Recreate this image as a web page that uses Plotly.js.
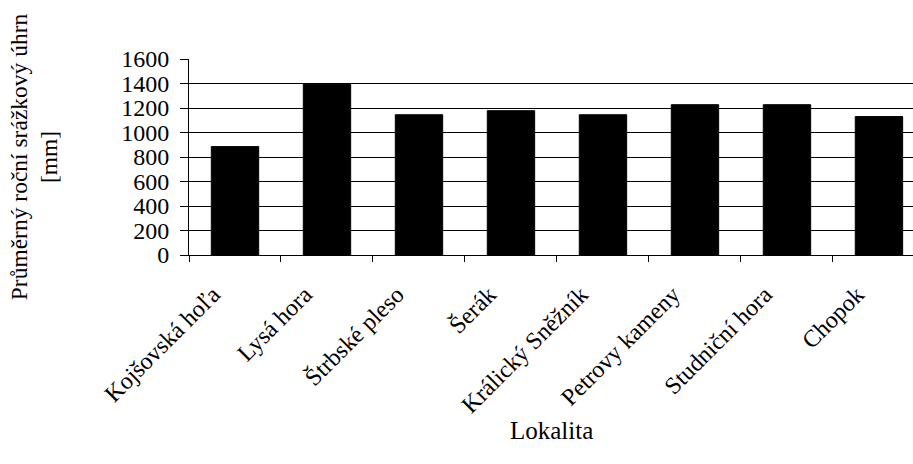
<!DOCTYPE html>
<html>
<head>
<meta charset="utf-8">
<script src="https://cdn.plot.ly/plotly-3.0.1.min.js"></script>
<style>
  html, body { margin: 0; padding: 0; background: #fff; }
  #chart { width: 913px; height: 464px; }
</style>
</head>
<body>
<div id="chart"></div>
<script>
// Average annual precipitation by locality
const localities = [
  'Kojšovská hoľa', 'Lysá hora', 'Štrbské pleso', 'Šerák',
  'Králický Sněžník', 'Petrovy kameny', 'Studniční hora', 'Chopok'
];
const precipitation = [885, 1393, 1145, 1178, 1145, 1227, 1227, 1130];
const yTicks = [0, 200, 400, 600, 800, 1000, 1200, 1400, 1600];

const serif = '"Liberation Serif", "Times New Roman", serif';
const f = size => ({ family: serif, size: size, color: '#000' });

const trace = {
  type: 'bar',
  x: localities,
  y: precipitation,
  marker: { color: '#000', line: { color: '#000', width: 1 } },
  hoverinfo: 'x+y'
};

const layout = {
  width: 913,
  height: 464,
  margin: { l: 189, r: 0, t: 59, b: 209 },
  paper_bgcolor: '#fff',
  plot_bgcolor: '#fff',
  showlegend: false,
  bargap: 0.485,
  font: f(24),
  xaxis: {
    type: 'category',
    range: [-0.5, 7.37],
    tickangle: -45,
    tickson: 'boundaries',
    ticks: 'outside',
    ticklen: 6,
    tickwidth: 1,
    tickcolor: '#000',
    showline: true,
    linecolor: '#000',
    linewidth: 1,
    showgrid: false,
    zeroline: false,
    tickfont: f(24),
    ticklabelstandoff: 15,
    ticklabelshift: -22,
    automargin: false
  },
  yaxis: {
    range: [0, 1600],
    tickvals: yTicks,
    ticktext: yTicks.map(String),
    ticks: 'outside',
    ticklen: 8,
    tickwidth: 1,
    tickcolor: '#000',
    showline: true,
    linecolor: '#000',
    linewidth: 1,
    showgrid: true,
    gridcolor: '#000',
    gridwidth: 1,
    zeroline: false,
    tickfont: f(24),
    ticklabelstandoff: 6,
    title: {
      text: 'Průměrný roční srážkový úhrn<br>[mm]',
      font: f(23.5),
      standoff: 56
    },
    automargin: false
  },
  // x-axis title placed below the slanted category labels
  annotations: [{
    text: 'Lokalita',
    xref: 'paper', yref: 'paper',
    x: 0.5, y: -0.893,
    xanchor: 'center', yanchor: 'middle',
    showarrow: false,
    font: f(25)
  }]
};

Plotly.newPlot('chart', [trace], layout, { displayModeBar: false, staticPlot: true });
</script>
</body>
</html>
